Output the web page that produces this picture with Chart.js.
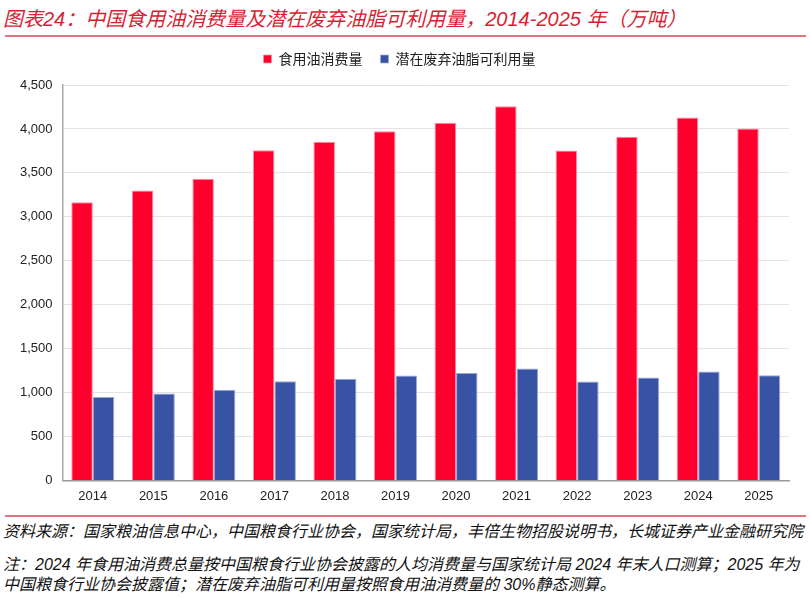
<!DOCTYPE html>
<html>
<head>
<meta charset="utf-8">
<script src="https://cdn.jsdelivr.net/npm/chart.js@4.4.1/dist/chart.umd.min.js"></script>
<style>
  body { margin: 0; width: 810px; height: 598px; background: #fff; position: relative; overflow: hidden;
         font-family: "Liberation Sans", "Noto Sans CJK SC", sans-serif; }
  #title { position: absolute; left: 3px; top: 3px; font-size: 20px; font-style: italic; color: #D81E34; white-space: nowrap; }
  .rule { position: absolute; left: 5px; width: 801px; height: 2px; background: #E27584; }
  .foot { position: absolute; left: 3px; font-size: 16px; font-style: italic; color: #111; white-space: nowrap; line-height: 20px; }
  #box { position: absolute; left: 0; top: 34px; width: 810px; height: 470px; }
</style>
</head>
<body>
<div id="title">图表24：中国食用油消费量及潜在废弃油脂可利用量，2014-2025 年（万吨）</div>
<div class="rule" style="top:35px"></div>
<div id="box"><canvas id="myChart"></canvas></div>
<div class="rule" style="top:515px"></div>
<div class="foot" style="top:522px">资料来源：国家粮油信息中心，中国粮食行业协会，国家统计局，丰倍生物招股说明书，长城证券产业金融研究院</div>
<div class="foot" style="top:555px">注：2024 年食用油消费总量按中国粮食行业协会披露的人均消费量与国家统计局 2024 年末人口测算；2025 年为<br>中国粮食行业协会披露值；潜在废弃油脂可利用量按照食用油消费量的 30%静态测算。</div>

<script>
// data (万吨)
const years = ["2014", "2015", "2016", "2017", "2018", "2019", "2020", "2021", "2022", "2023", "2024", "2025"];
const oilUse = [3166, 3300, 3434, 3757, 3853, 3975, 4070, 4257, 3755, 3910, 4131, 4006];
const wasteOil = [948, 988, 1031, 1127, 1156, 1194, 1221, 1274, 1126, 1172, 1240, 1198];
const yTicks = [0, 500, 1000, 1500, 2000, 2500, 3000, 3500, 4000, 4500];

const data = {
  labels: years,
  datasets: [
    {
      label: "食用油消费量",
      backgroundColor: "#FF002E",
      borderColor: "#FF8FA3",
      borderWidth: { top: 1, left: 1, right: 1, bottom: 0 },
      data: oilUse,
    },
    {
      label: "潜在废弃油脂可利用量",
      backgroundColor: "#3853A3",
      borderColor: "#9AA8D6",
      borderWidth: { top: 1, left: 1, right: 1, bottom: 0 },
      data: wasteOil,
    },
  ],
};

const tickFont = { family: "'Liberation Sans', Arial, sans-serif", size: 13 };

// a bit more room between the legend and the plot
const legendGap = {
  id: "legendGap",
  beforeInit(chart) {
    const fit = chart.legend.fit;
    chart.legend.fit = function () {
      fit.bind(chart.legend)();
      this.height += 9;
    };
  },
};

const config = {
  type: "bar",
  data,
  plugins: [legendGap],
  options: {
    responsive: true,
    maintainAspectRatio: false,
    animation: false,
    layout: { padding: { left: 10, right: 21, top: 0, bottom: 0 } },
    datasets: { bar: { categoryPercentage: 0.71, barPercentage: 1.0 } },
    plugins: {
      tooltip: { enabled: false },
      legend: {
        position: "top",
        labels: {
          boxWidth: 8, boxHeight: 8, padding: 18, color: "#222",
          font: { family: "'Noto Sans CJK SC', sans-serif", size: 14 },
        },
      },
    },
    scales: {
      x: {
        grid: { display: false },
        border: { color: "#999", width: 1.5 },
        ticks: { color: "#222", font: tickFont, padding: 0 },
      },
      y: {
        min: 0,
        max: 4500,
        afterBuildTicks: (axis) => { axis.ticks = yTicks.map((v) => ({ value: v })); },
        grid: { color: "#E3E3E3", lineWidth: 1, drawTicks: false },
        border: { color: "#AAA", width: 1.5 },
        ticks: {
          color: "#222", font: tickFont, padding: 10,
          callback: (v) => v.toLocaleString("en-US"),
        },
      },
    },
  },
};

var myChart = new Chart(document.getElementById("myChart"), config);
</script>
</body>
</html>
